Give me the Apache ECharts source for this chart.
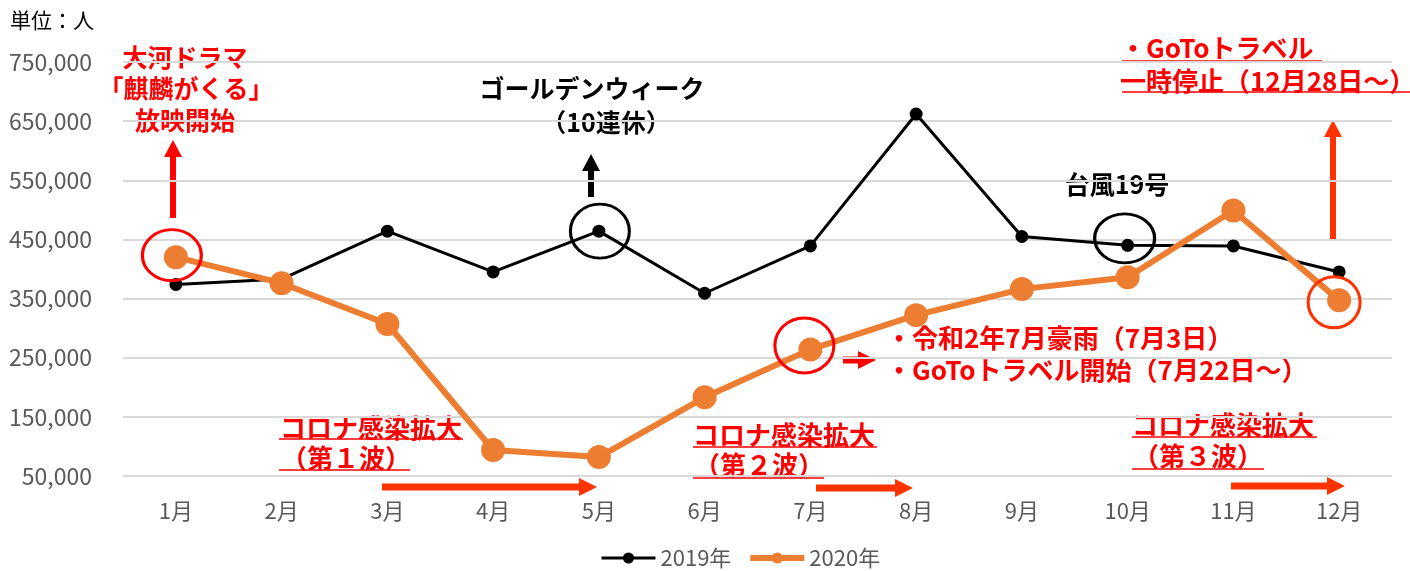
<!DOCTYPE html>
<html>
<head>
<meta charset="utf-8">
<script src="https://cdn.jsdelivr.net/npm/echarts@6/dist/echarts.min.js"></script>
<style>
  html, body { margin: 0; padding: 0; background: #fff; }
  #chart { width: 1410px; height: 571px; }
</style>
</head>
<body>
<div id="chart"></div>
<script>
const months = ['1月', '2月', '3月', '4月', '5月', '6月', '7月', '8月', '9月', '10月', '11月', '12月'];
const visitors2019 = [374000, 383000, 464000, 395000, 464000, 359000, 439000, 662000, 455000, 440000, 439000, 395000];
const visitors2020 = [420000, 376000, 307000, 94000, 82000, 183000, 264000, 322000, 366000, 386000, 499000, 347000];
const yTicks = [50000, 150000, 250000, 350000, 450000, 550000, 650000, 750000];

const FONT = '"Noto Sans CJK JP", "Noto Sans", sans-serif';
const RED = '#FF0000';
const ORANGE_RED = '#FF3300';

function fmt(v) {
    return String(v).replace(/\B(?=(\d{3})+(?!\d))/g, ',');
}

function label(text, x, y, color, align, size) {
    return {
        type: 'text', x: x, y: y, silent: true,
        style: {
            text: text, fill: color,
            font: 'bold ' + (size || 25) + 'px ' + FONT,
            textAlign: align || 'center', textVerticalAlign: 'middle'
        }
    };
}

// white box behind a text block, hides the grid lines like the original text boxes
function blank(x1, y1, x2, y2) {
    return {
        type: 'rect', silent: true,
        shape: { x: x1, y: y1, width: x2 - x1, height: y2 - y1 },
        style: { fill: '#fff' }
    };
}

function underline(x1, x2, y, color) {
    return {
        type: 'line', silent: true,
        shape: { x1: x1, y1: y, x2: x2, y2: y },
        style: { stroke: color, lineWidth: 1.5 }
    };
}

function upArrow(x, top, bottom, color) {
    return {
        type: 'polygon', silent: true,
        shape: { points: [[x - 3, bottom], [x - 3, top + 17], [x - 9, top + 17], [x, top], [x + 9, top + 17], [x + 3, top + 17], [x + 3, bottom]] },
        style: { fill: color }
    };
}

function rightArrow(x1, x2, y, color) {
    return {
        type: 'polygon', silent: true,
        shape: { points: [[x1, y - 3.5], [x2 - 18, y - 3.5], [x2 - 18, y - 9], [x2, y], [x2 - 18, y + 9], [x2 - 18, y + 3.5], [x1, y + 3.5]] },
        style: { fill: color }
    };
}

function ring(monthIdx, values, size, offset, color) {
    return {
        coord: [monthIdx, values[monthIdx]],
        symbolSize: size,
        symbolOffset: offset,
        itemStyle: { color: 'transparent', borderColor: color, borderWidth: 3 }
    };
}

const chart = echarts.init(document.getElementById('chart'));

chart.setOption({
    animation: false,
    textStyle: { fontFamily: FONT },
    grid: { left: 123, right: 18, top: 62, bottom: 95 },
    legend: {
        top: 542,
        left: 595,
        itemWidth: 54,
        itemHeight: 14,
        itemGap: 16,
        textStyle: { color: '#595959', fontSize: 22, fontFamily: FONT },
        data: [
            { name: '2019年', lineStyle: { width: 3 } },
            { name: '2020年', lineStyle: { width: 6 } }
        ]
    },
    xAxis: {
        type: 'category',
        data: months,
        axisLine: { show: false },
        axisTick: { show: false },
        axisLabel: { color: '#595959', fontSize: 22, margin: 24, fontFamily: FONT }
    },
    yAxis: {
        type: 'value',
        min: 50000,
        max: 750000,
        interval: 50000,
        axisLine: { show: false },
        axisTick: { show: false },
        axisLabel: {
            color: '#595959', fontSize: 23, margin: 31, fontFamily: FONT,
            formatter: function (v) { return yTicks.indexOf(v) >= 0 ? fmt(v) : ''; }
        },
        splitLine: { lineStyle: { color: ['#d9d9d9', 'transparent'], width: 2 } }
    },
    series: [
        {
            name: '2019年',
            type: 'line',
            data: visitors2019,
            symbol: 'circle',
            symbolSize: 13,
            lineStyle: { color: '#000', width: 3 },
            itemStyle: { color: '#000' },
            markPoint: {
                symbol: 'circle',
                label: { show: false },
                silent: true,
                data: [
                    ring(4, visitors2019, [59, 54], [1, 0], '#000'),
                    ring(9, visitors2019, [60, 49], [-3, -7], '#000')
                ]
            }
        },
        {
            name: '2020年',
            type: 'line',
            data: visitors2020,
            symbol: 'circle',
            symbolSize: 24,
            lineStyle: { color: '#ED7D31', width: 6 },
            itemStyle: { color: '#ED7D31' },
            markPoint: {
                symbol: 'circle',
                label: { show: false },
                silent: true,
                data: [
                    ring(0, visitors2020, [59, 51], [-4, -2], RED),
                    ring(6, visitors2020, [59, 55], [-6, -4], RED),
                    ring(11, visitors2020, [52, 51], [-5, 2], ORANGE_RED)
                ]
            }
        }
    ],
    graphic: [
        { type: 'text', x: 10, y: 20, silent: true,
          style: { text: '単位：人', fill: '#000', font: '21px ' + FONT, textVerticalAlign: 'middle' } },

        blank(105, 40, 267, 135),
        label('大河ドラマ', 185, 57, RED),
        label('「麒麟がくる」', 186, 88, RED),
        label('放映開始', 185, 120, RED),
        upArrow(173, 140, 218, RED),

        label('ゴールデンウィーク', 592, 88, '#000'),
        blank(550, 108, 668, 136),
        label('（10連休）', 606, 122, '#000'),
        upArrow(591, 154, 197, '#000'),

        blank(1058, 168, 1176, 200),
        label('台風19号', 1117, 184, '#000'),

        blank(1122, 35, 1321, 70),
        label('・GoToトラベル', 1120, 48, RED, 'left', 26),
        underline(1122, 1322, 61, RED),
        label('一時停止（12月28日～）', 1120, 81, RED, 'left', 26),
        underline(1122, 1410, 92, RED),
        upArrow(1333, 120, 240, ORANGE_RED),

        label('・令和2年7月豪雨（7月3日）', 886, 338, RED, 'left', 26),
        label('・GoToトラベル開始（7月22日～）', 886, 370, RED, 'left', 26),
        rightArrow(843, 876, 360, RED),

        label('コロナ感染拡大', 280, 428, RED, 'left', 26),
        underline(279, 463, 439, RED),
        label('（第１波）', 281, 458, RED, 'left', 26),
        underline(279, 410, 470, RED),
        rightArrow(382, 597, 487, ORANGE_RED),

        label('コロナ感染拡大', 693, 435, RED, 'left', 26),
        underline(693, 877, 447, RED),
        label('（第２波）', 694, 465, RED, 'left', 26),
        underline(693, 824, 478, RED),
        rightArrow(816, 913, 488, ORANGE_RED),

        label('コロナ感染拡大', 1132, 425, RED, 'left', 26),
        underline(1132, 1317, 437, RED),
        label('（第３波）', 1133, 456, RED, 'left', 26),
        underline(1132, 1264, 469, RED),
        rightArrow(1231, 1345, 486, ORANGE_RED)
    ]
});
</script>
</body>
</html>
